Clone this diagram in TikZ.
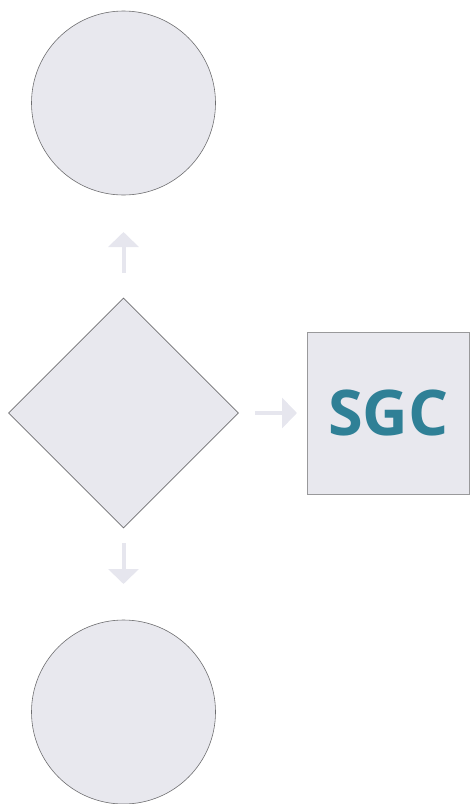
\documentclass[tikz,border=0pt]{standalone}
\usepackage{fontspec}
\setmainfont{Open Sans}
\usetikzlibrary{shapes.geometric,arrows.meta}
\definecolor{shapefill}{HTML}{E8E8EE}
\definecolor{shapeline}{HTML}{6E6E70}
\definecolor{arrowcol}{HTML}{E6E6EE}
\definecolor{sgcteal}{HTML}{2F8096}
\tikzset{
  roundnode/.style={circle,draw=shapeline,fill=shapefill,line width=0.6pt,minimum size=184pt,inner sep=0pt},
  decision/.style={diamond,draw=shapeline,fill=shapefill,line width=0.6pt,minimum width=230pt,minimum height=230pt,inner sep=0pt,aspect=1},
  boxnode/.style={rectangle,draw=shapeline!70,fill=shapefill,line width=0.8pt,minimum width=162pt,minimum height=162pt,inner sep=0pt},
  flowarrow/.style={draw=arrowcol,line width=4pt,-{Triangle[width=30pt,length=15pt]},arrowcol}
}
\begin{document}
\begin{tikzpicture}[x=1pt,y=-1pt]
\useasboundingbox (0,0) rectangle (470,804);
\node[roundnode] (top) at (123.5,103) {};
\node[decision] (dec) at (123.5,413) {};
\node[roundnode] (bot) at (123.5,712) {};
\node[boxnode] (sgc) at (388.5,413) {\fontsize{63}{63}\selectfont\bfseries\color{sgcteal}SGC};
\coordinate (upstart) at (123.5,273);
\coordinate (upend) at (123.5,232);
\coordinate (rstart) at (255,413);
\coordinate (rend) at (297,413);
\coordinate (dstart) at (123.5,543);
\coordinate (dend) at (123.5,584);
\draw[flowarrow] (upstart) -- (upend);
\draw[flowarrow] (rstart) -- (rend);
\draw[flowarrow] (dstart) -- (dend);
\end{tikzpicture}
\end{document}
